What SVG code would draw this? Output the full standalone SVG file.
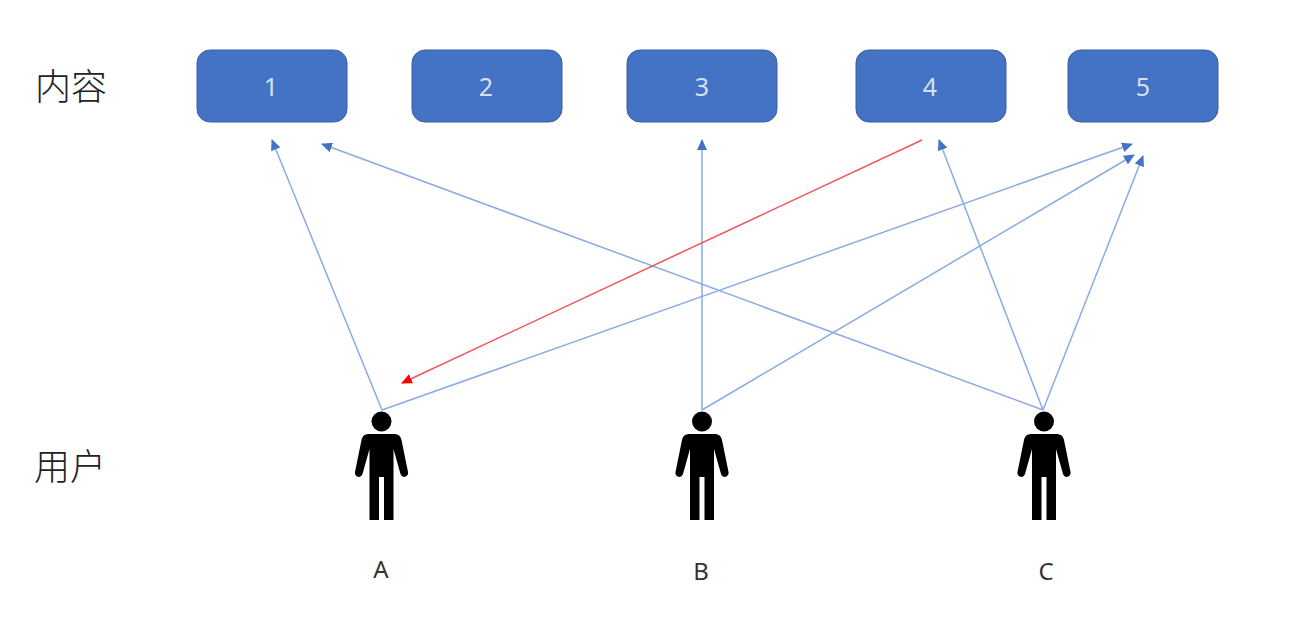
<svg xmlns="http://www.w3.org/2000/svg" width="1300" height="623" viewBox="0 0 1300 623">
<style>
.box{fill:#4472c4;stroke:#3a5f9f;stroke-width:1}
.num{font:25px "Noto Sans","Liberation Sans",sans-serif;fill:#d5e0f3;text-anchor:middle}
.lab{font:24px "Noto Sans","Liberation Sans",sans-serif;fill:#333;text-anchor:middle}
.cjk{font:300 36px "Noto Sans CJK SC","Noto Sans",sans-serif;fill:#222;text-anchor:middle}
.c{fill:none;stroke:#8aabe2;stroke-width:1.5;marker-end:url(#b)}
.r{fill:none;stroke:#f4555a;stroke-width:1.5;marker-end:url(#r)}
</style>
<defs>
<marker id="b" markerUnits="userSpaceOnUse" markerWidth="12" markerHeight="10" refX="10" refY="5" orient="auto"><path d="M0 0L11 5L0 10Z" fill="#4472c4"/></marker>
<marker id="r" markerUnits="userSpaceOnUse" markerWidth="12" markerHeight="10" refX="10" refY="5" orient="auto"><path d="M0 0L11 5L0 10Z" fill="#f00"/></marker>
<g id="person"><circle cx="0" cy="10.5" r="10"/><path d="M-12 23H12C17 23 19 25 20 29L26.500 61C27.500 66 21 68 19 63L12 38V109H2.500V66H-2.500V109H-12V38L-19 63C-21 68-27.500 66-26.500 61L-20 29C-19 25-17 23-12 23Z"/></g>
</defs>
<rect width="1300" height="623" fill="#fff"/>
<g id="connectors">
<path class="c" d="M382 410L272 140"/>
<path class="c" d="M382 410L1132 144"/>
<path class="c" d="M702 410V140"/>
<path class="c" d="M702 410L1134 155"/>
<path class="c" d="M1043 410L322 144"/>
<path class="c" d="M1043 410L939 140"/>
<path class="c" d="M1043 410L1143 156"/>
<path class="r" d="M922 140L402 383"/>
</g>
<g id="label-content"><text class="cjk" x="71" y="100">内容</text></g>
<g id="label-users"><text class="cjk" x="70" y="480">用户</text></g>
<g id="n1"><rect class="box" x="197" y="50" width="150" height="72" rx="13"/><text class="num" x="271" y="96">1</text></g>
<g id="n2"><rect class="box" x="412" y="50" width="150" height="72" rx="13"/><text class="num" x="486" y="96">2</text></g>
<g id="n3"><rect class="box" x="627" y="50" width="150" height="72" rx="13"/><text class="num" x="702" y="96">3</text></g>
<g id="n4"><rect class="box" x="856" y="50" width="150" height="72" rx="13"/><text class="num" x="930" y="96">4</text></g>
<g id="n5"><rect class="box" x="1068" y="50" width="150" height="72" rx="13"/><text class="num" x="1143" y="96">5</text></g>
<g id="user-a"><use href="#person" x="381.500" y="411"/><text class="lab" x="381" y="578">A</text></g>
<g id="user-b"><use href="#person" x="702" y="411"/><text class="lab" x="701" y="580">B</text></g>
<g id="user-c"><use href="#person" x="1044" y="411"/><text class="lab" x="1046" y="580">C</text></g>
</svg>
